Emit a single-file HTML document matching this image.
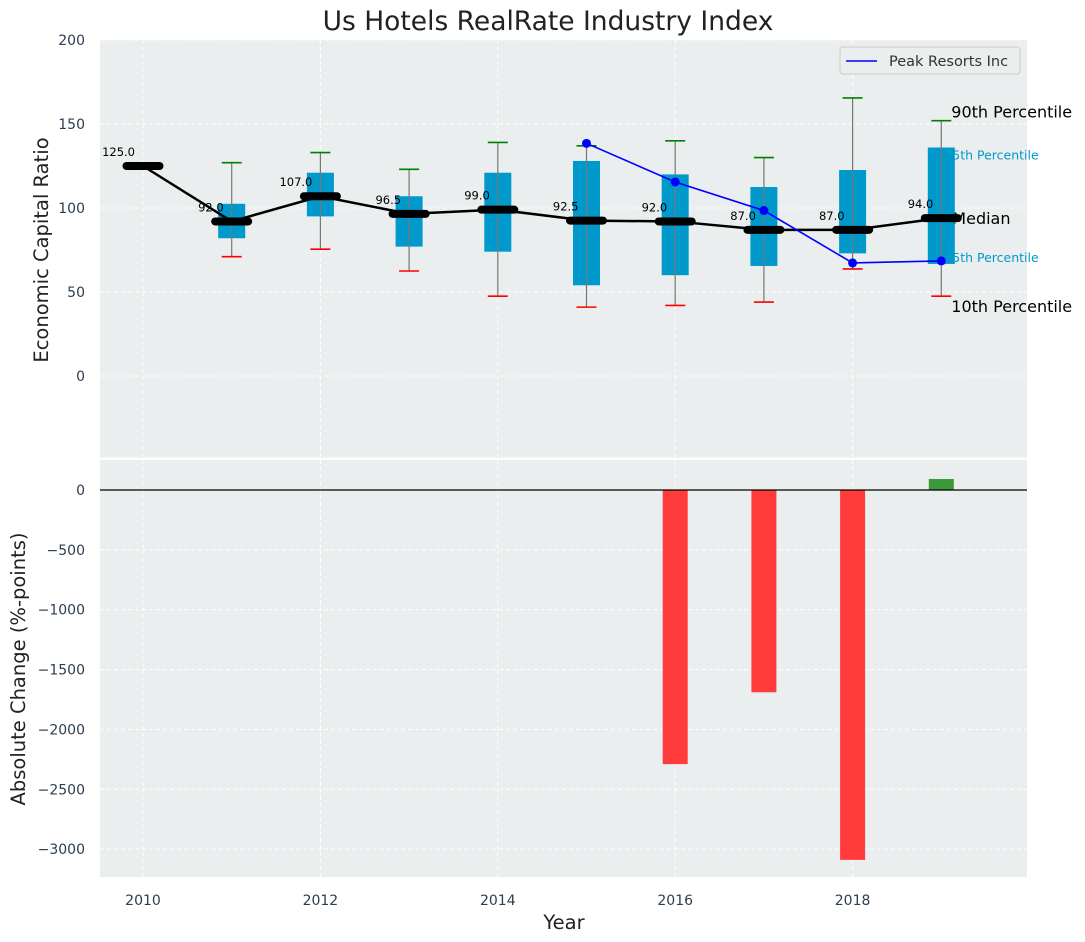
<!DOCTYPE html>
<html><head><meta charset="utf-8"><style>
body{margin:0;background:#fff;}
svg{display:block;font-family:"DejaVu Sans","Liberation Sans",sans-serif;}
</style></head><body>
<svg id="chart" width="1085" height="942" viewBox="0 0 1085 942" xmlns="http://www.w3.org/2000/svg">
<text x="548" y="30" font-size="26.5" text-anchor="middle" fill="#222">Us Hotels RealRate Industry Index</text>
<rect x="100" y="40" width="927" height="417.5" fill="#eaeeee"/>
<rect x="100" y="460" width="927" height="417" fill="#eaeeee"/>
<g id="gtop"></g><g id="gbot"></g>
<text transform="translate(48,250) rotate(-90)" font-size="19.5" text-anchor="middle" fill="#222">Economic Capital Ratio</text>
<text transform="translate(25,669) rotate(-90)" font-size="19.5" text-anchor="middle" fill="#222">Absolute Change (%-points)</text>
<text x="564" y="929" font-size="19.5" text-anchor="middle" fill="#222">Year</text>
</svg>
<script>
const years=[2010,2011,2012,2013,2014,2015,2016,2017,2018,2019];
const medians=[125,92,107,96.5,99,92.5,92,87,87,94];
const q1=[null,82,95,77,74,54,60,65.5,73,66.7];
const q3=[null,102.5,121,107,121,128,120,112.5,122.6,136];
const p10=[null,71,75.5,62.5,47.5,41,42,44,63.7,47.5];
const p90=[null,127,133,123,139,137,140,130,165.5,152];
const peakYears=[2015,2016,2017,2018,2019];
const peakVals=[138.5,115.5,98.5,67.3,68.5];
const chgYears=[2016,2017,2018,2019];
const chgVals=[-2290,-1690,-3090,92];
const topTicks=[0,50,100,150,200];
const botTicks=[0,-500,-1000,-1500,-2000,-2500,-3000];
const xTicks=[2010,2012,2014,2016,2018];
const NS="http://www.w3.org/2000/svg";
const X=v=>143+(v-2010)*88.7;
const YT=v=>376-v*1.68;
const YB=v=>490-v*0.1197;
function mk(parent,tag,attrs,text){const e=document.createElementNS(NS,tag);for(const k in attrs)e.setAttribute(k,attrs[k]);if(text!==undefined)e.textContent=text;parent.appendChild(e);return e;}
const gTop=document.getElementById('gtop'),gBot=document.getElementById('gbot');
xTicks.forEach(t=>{
 let g=mk(gTop,'line',{x1:X(t),x2:X(t),y1:40,y2:457,stroke:'#fff','stroke-dasharray':'4,3'});
 
 
 let g2=mk(gBot,'line',{x1:X(t),x2:X(t),y1:460,y2:877,stroke:'#fff','stroke-dasharray':'4,3'});
 
 
 let l=mk(gBot,'text',{x:X(t),y:905,'font-size':14,'text-anchor':'middle',fill:'#2c3e50'},String(t));
 
 
});
topTicks.forEach(t=>{
 let g=mk(gTop,'line',{x1:100,x2:1027,y1:YT(t),y2:YT(t),stroke:'#fff','stroke-dasharray':'4,3'});
 
 
 let l=mk(gTop,'text',{x:85,y:YT(t)+5,'font-size':14,'text-anchor':'end',fill:'#2c3e50'},String(t));
 
 
});
botTicks.forEach(t=>{
 let g=mk(gBot,'line',{x1:100,x2:1027,y1:YB(t),y2:YB(t),stroke:'#fff','stroke-dasharray':'4,3'});
 
 
 let l=mk(gBot,'text',{x:85,y:YB(t)+5,'font-size':14,'text-anchor':'end',fill:'#2c3e50'},String(t).replace('-','\u2212'));
 
 
});
const last=years.length-1,lx=X(years[last]);
[[p90[last],'90th Percentile',16,'#000',-3,10],[q3[last],'75th Percentile',12.5,'#0099cc',12,3],[medians[last],'Median',16,'#000',6,11],[q1[last],'25th Percentile',12.5,'#0099cc',-2,3],[p10[last],'10th Percentile',16,'#000',16,10]].forEach(a=>{
 let t=mk(gTop,'text',{x:lx+a[5],y:YT(a[0])+a[4],'font-size':a[2],fill:a[3]},a[1]);
 
 
});
years.forEach((y,i)=>{
 if(q1[i]===null)return;
 const x=X(y);
 let b=mk(gTop,'rect',{x:x-13.5,y:YT(q3[i]),width:27,height:YT(q1[i])-YT(q3[i]),fill:'#0099cc'});
 
 
 let w=mk(gTop,'line',{x1:x,x2:x,y1:YT(p90[i]),y2:YT(p10[i]),stroke:'#777','stroke-width':1.2});
 
 
 let h=mk(gTop,'line',{x1:x-10,x2:x+10,y1:YT(p90[i]),y2:YT(p90[i]),stroke:'green','stroke-width':1.6});
 
 
 let lo=mk(gTop,'line',{x1:x-10,x2:x+10,y1:YT(p10[i]),y2:YT(p10[i]),stroke:'red','stroke-width':1.6});
 
 
});
let ml=mk(gTop,'polyline',{points:years.map((y,i)=>X(y)+','+YT(medians[i])).join(' '),fill:'none',stroke:'#000','stroke-width':2.5});


years.forEach((y,i)=>{
 const x=X(y),yy=YT(medians[i]);
 let m=mk(gTop,'line',{x1:x-16.5,x2:x+16.5,y1:yy,y2:yy,stroke:'#000','stroke-width':8,'stroke-linecap':'round'});
 
 
 let t=mk(gTop,'text',{x:x-8,y:yy-10,'font-size':11.5,'text-anchor':'end',fill:'#000'},medians[i].toFixed(1));
 
 
});
let pl=mk(gTop,'polyline',{points:peakYears.map((y,i)=>X(y)+','+YT(peakVals[i])).join(' '),fill:'none',stroke:'#0000ff','stroke-width':1.6});


peakYears.forEach((y,i)=>{
 let c=mk(gTop,'circle',{cx:X(y),cy:YT(peakVals[i]),r:4.5,fill:'#0000ff'});
 
 
});
let lg=mk(gTop,'rect',{x:840,y:47,width:180,height:27,fill:'#eaeeee',stroke:'#ccc',rx:3});


let ll=mk(gTop,'line',{x1:846,x2:877,y1:61,y2:61,stroke:'#0000ff','stroke-width':1.6});


let lt=mk(gTop,'text',{x:889,y:66,'font-size':14.5,fill:'#333'},'Peak Resorts Inc');


chgYears.forEach((y,i)=>{
 const v=chgVals[i],y0=YB(0),y1=YB(v);
 let r=mk(gBot,'rect',{x:X(y)-12.5,y:Math.min(y0,y1),width:25,height:Math.abs(y1-y0),fill:v<0?'#ff3b3b':'#3a9a3a'});
 
 
});
let zl=mk(gBot,'line',{x1:100,x2:1027,y1:YB(0),y2:YB(0),stroke:'#000','stroke-width':1.2});


</script>
</body></html>
